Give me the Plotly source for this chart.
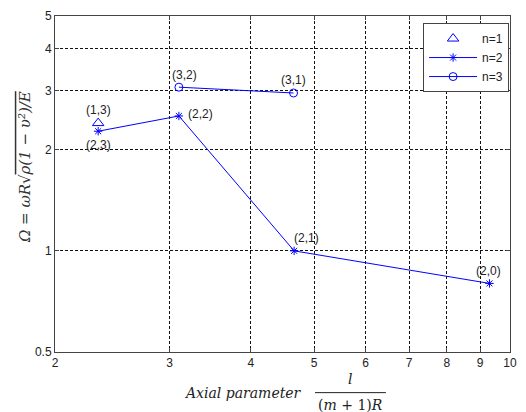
import numpy as np
import plotly.graph_objects as go

# Data
n1_x = [2.33]
n1_y = [2.40]
n1_lab = ["(1,3)"]

n2_x = [2.33, 3.10, 4.66, 9.30]
n2_y = [2.27, 2.52, 1.00, 0.80]
n2_lab = ["(2,3)", "(2,2)", "(2,1)", "(2,0)"]

n3_x = [3.10, 4.65]
n3_y = [3.07, 2.95]
n3_lab = ["(3,2)", "(3,1)"]

x_ticks = [2, 3, 4, 5, 6, 7, 8, 9, 10]
y_ticks = [0.5, 1, 2, 3, 4, 5]

BLUE = "#0000ff"
fig = go.Figure()
fig.add_trace(go.Scatter(x=n1_x, y=n1_y, mode="markers", name="n=1",
                         marker=dict(symbol="triangle-up-open", size=10, color=BLUE, line=dict(width=1))))
fig.add_trace(go.Scatter(x=n2_x, y=n2_y, mode="lines+markers", name="n=2",
                         line=dict(color=BLUE, width=1),
                         marker=dict(symbol="asterisk-open", size=7, color=BLUE, line=dict(width=1, color=BLUE))))
fig.add_trace(go.Scatter(x=n3_x, y=n3_y, mode="lines+markers", name="n=3",
                         line=dict(color=BLUE, width=1),
                         marker=dict(symbol="circle-open", size=8, color=BLUE, line=dict(width=1))))

lab_font = dict(family="Liberation Sans, Arial", size=12, color="#222")
def add_labels(xs, ys, labs, offsets):
    for x, y, t, (dx, dy) in zip(xs, ys, labs, offsets):
        fig.add_annotation(x=np.log10(x), y=np.log10(y), text=t, showarrow=False,
                           xshift=dx, yshift=dy, font=lab_font)

add_labels(n1_x, n1_y, n1_lab, [(0, 13)])
add_labels(n2_x, n2_y, n2_lab, [(0, -14), (22, 2), (12, 13), (-1, 12)])
add_labels(n3_x, n3_y, n3_lab, [(6, 12), (0, 13)])

grid = dict(showgrid=True, gridcolor="#111", griddash="3px,2px", gridwidth=1)
tickfont = dict(family="Liberation Sans, Arial", size=12, color="#222")
fig.update_xaxes(type="log", range=[np.log10(2), 1], tickvals=x_ticks,
                 ticktext=[str(v) for v in x_ticks], ticks="inside", ticklen=4,
                 showline=True, linecolor="#444", linewidth=1, mirror="ticks",
                 zeroline=False, tickfont=tickfont, **grid)
fig.update_yaxes(type="log", range=[np.log10(0.5), np.log10(5)], tickvals=y_ticks,
                 ticktext=[str(v) for v in y_ticks], ticks="inside", ticklen=4,
                 showline=True, linecolor="#444", linewidth=1, mirror="ticks",
                 zeroline=False, tickfont=tickfont, **grid)

serif = "DejaVu Serif, Liberation Serif"
# y title
fig.add_annotation(xref="paper", yref="paper", x=(24 - 55) / 462, y=(352 - 165) / 339,
                   xanchor="center", yanchor="middle",
                   text="<i>Ω = ωR√<span style='text-decoration:overline'>ρ(1 − υ²)/E</span></i>",
                   textangle=-90, showarrow=False,
                   font=dict(family=serif, size=15, color="#333"))
# x title
fig.add_annotation(xref="paper", yref="paper", x=(246 - 55) / 462, y=-41 / 339, xanchor="center", yanchor="middle",
                   text="<i>Axial parameter</i>", showarrow=False,
                   font=dict(family=serif, size=14, color="#222"))
fig.add_annotation(xref="paper", yref="paper", x=(355 - 55) / 462, y=-27 / 339, xanchor="center", yanchor="middle",
                   text="<i>l</i>", showarrow=False, font=dict(family=serif, size=14, color="#222"))
fig.add_annotation(xref="paper", yref="paper", x=(355 - 55) / 462, y=-53 / 339, xanchor="center", yanchor="middle",
                   text="(<i>m</i> + 1)<i>R</i>", showarrow=False, font=dict(family=serif, size=14, color="#222"))
fig.add_shape(type="line", xref="paper", yref="paper", x0=(319 - 55) / 462, x1=(391 - 55) / 462,
              y0=-41 / 339, y1=-41 / 339, line=dict(color="#222", width=1))

fig.update_layout(
    width=526, height=412,
    margin=dict(l=55, r=9, t=13, b=60),
    paper_bgcolor="white", plot_bgcolor="white",
    showlegend=True,
    legend=dict(x=0.998, y=0.979, xanchor="right", yanchor="top",
                bgcolor="white", bordercolor="#444", borderwidth=1,
                font=dict(family="Liberation Sans, Arial", size=12, color="#222"),
                tracegroupgap=0, itemwidth=48),
)
fig.write_html("out.html")
